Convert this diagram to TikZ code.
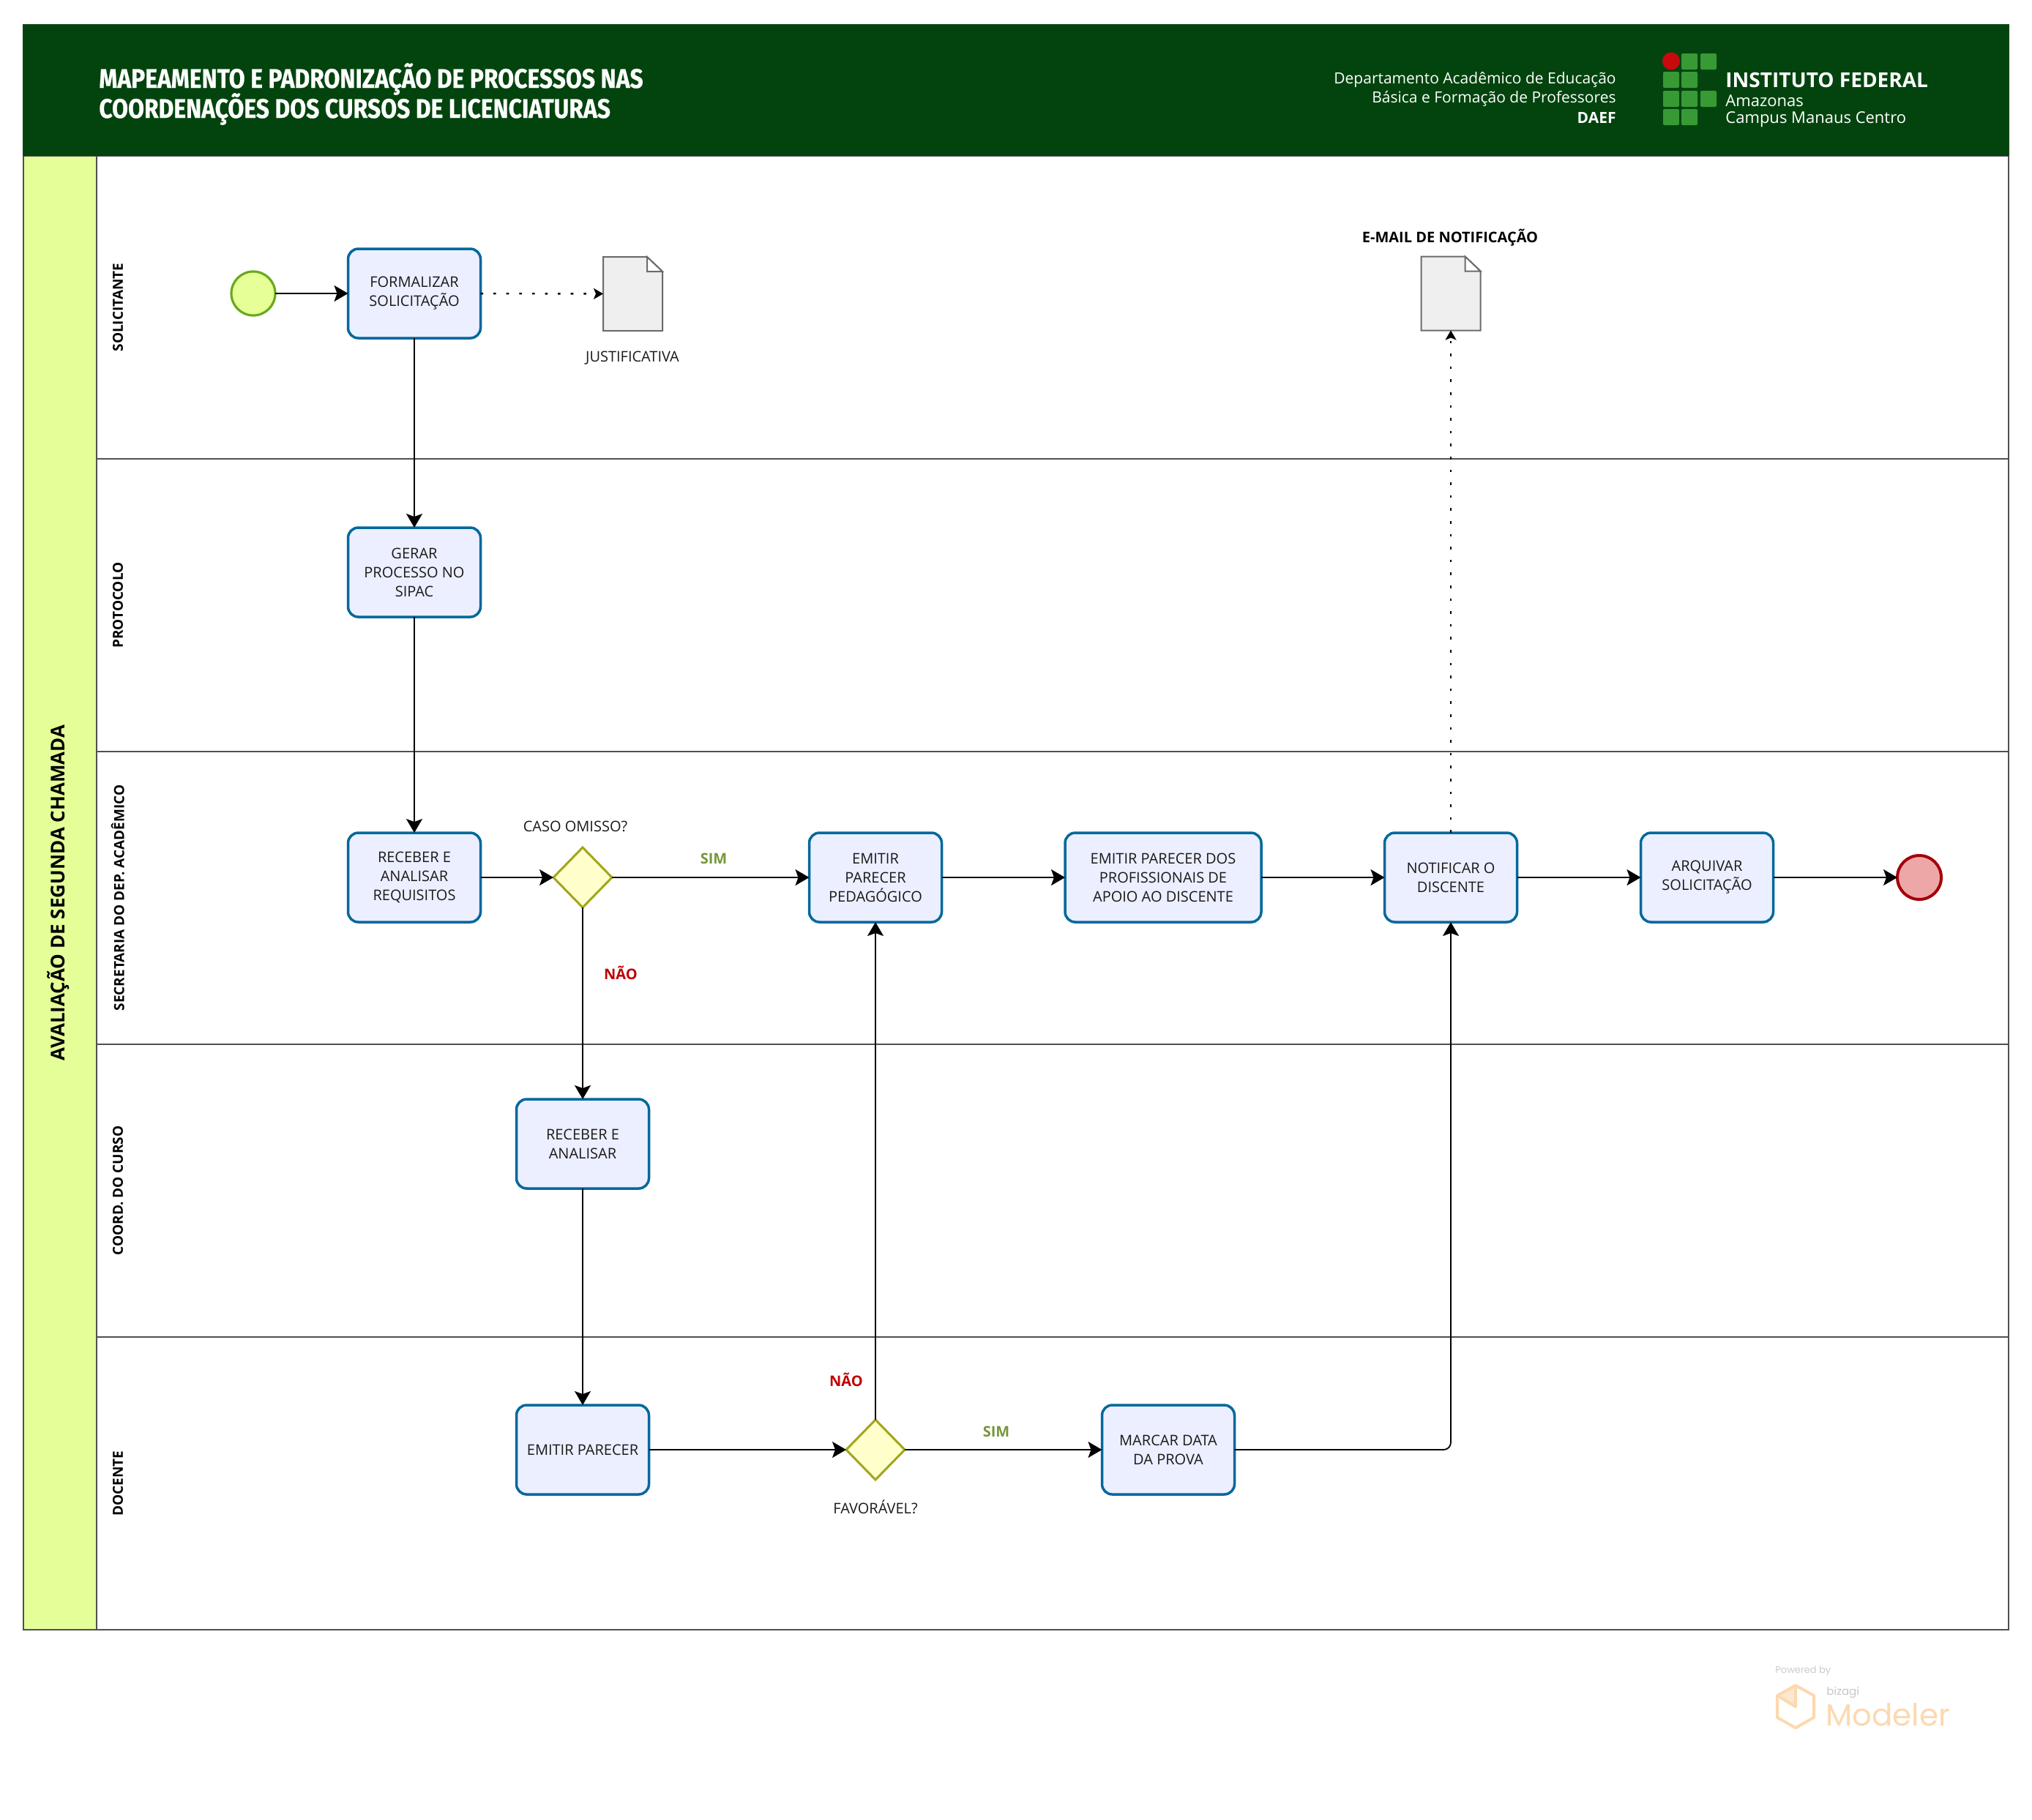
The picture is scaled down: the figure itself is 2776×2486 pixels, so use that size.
\documentclass[tikz,border=0pt]{standalone}
\usepackage{fontspec}
\setmainfont{Open Sans}
\newfontfamily\titlefont[FakeStretch=0.86,FakeBold=0.5]{Fira Sans Bold}
\newfontfamily\logofont{Poppins}
\usetikzlibrary{shapes.geometric,arrows.meta,calc}
\definecolor{hdr}{HTML}{03440E}
\definecolor{band}{HTML}{E4FF98}
\definecolor{taskfill}{HTML}{ECEFFF}
\definecolor{taskline}{HTML}{03689C}
\definecolor{startfill}{HTML}{E6FF97}
\definecolor{startline}{HTML}{6AA91E}
\definecolor{endfill}{HTML}{EEA7A7}
\definecolor{endline}{HTML}{A5000B}
\definecolor{gatefill}{HTML}{FFFFCC}
\definecolor{gateline}{HTML}{A2A61A}
\definecolor{docfill}{HTML}{EFEFEF}
\definecolor{docline}{HTML}{6B6B6B}
\definecolor{simc}{HTML}{759739}
\definecolor{naoc}{HTML}{C00000}
\definecolor{lanec}{HTML}{505050}
\definecolor{logog}{HTML}{379A35}
\definecolor{logor}{HTML}{C8090E}
\definecolor{peach}{HTML}{FBD9B0}
\definecolor{txt}{HTML}{1A1A1A}
\tikzset{
 tasknode/.style={draw=taskline,fill=taskfill,line width=1.75pt,rounded corners=7pt,minimum width=90.5pt,minimum height=61pt,inner sep=0pt,outer sep=0pt,align=center,text=txt,font=\fontsize{10}{13}\selectfont},
 widetask/.style={tasknode,minimum width=134pt},
 gatenode/.style={diamond,draw=gateline,fill=gatefill,line width=1.5pt,minimum width=40pt,minimum height=41pt,inner sep=0pt,outer sep=0pt},
 startnode/.style={circle,draw=startline,fill=startfill,line width=1.6pt,minimum size=30pt,inner sep=0pt,outer sep=0pt},
 endnode/.style={circle,draw=endline,fill=endfill,line width=2pt,minimum size=30pt,inner sep=0pt,outer sep=0pt},
 docnode/.style={minimum width=40.5pt,minimum height=50.5pt,inner sep=0pt,outer sep=0pt},
 docshape/.style={draw=docline,fill=docfill,line width=1pt},
 lane/.style={draw=lanec,fill=white,line width=0.9pt},
 flow/.style={draw=black,line width=0.9pt,-{Stealth[length=9.5pt,width=11pt,inset=2pt]}},
 dotflow/.style={draw=black,line width=1.2pt,dash pattern=on 1.8pt off 7pt,-{Stealth[length=6.5pt,width=7.5pt,inset=1.5pt]}},
 lbl/.style={inner sep=0pt,outer sep=0pt,text=txt,font=\fontsize{10}{13}\selectfont,align=center},
 lanelbl/.style={inner sep=0pt,outer sep=0pt,rotate=90,text=black,font=\fontsize{9.5}{12}\selectfont\bfseries},
 simlbl/.style={inner sep=0pt,text=simc,font=\fontsize{10}{13}\selectfont\bfseries},
 naolbl/.style={inner sep=0pt,text=naoc,font=\fontsize{10}{13}\selectfont\bfseries},
 hdrr/.style={inner sep=0pt,anchor=east,text=white,font=\fontsize{10.5}{13}\selectfont},
 hdrl/.style={inner sep=0pt,anchor=west,text=white,font=\fontsize{11}{13}\selectfont},
 titlelbl/.style={inner sep=0pt,anchor=west,text=white,font=\titlefont\fontsize{18.5}{20}\selectfont},
 logosq/.style={fill=logog,rounded corners=1pt},
}
\begin{document}
\begin{tikzpicture}[x=0.5pt,y=-0.5pt]
\useasboundingbox (0,0) rectangle (2776,2486);
\fill[white] (0,0) rectangle (2776,2486);
% pool and lanes
\draw[lane] (132,213) rectangle (2744,627);
\draw[lane] (132,627) rectangle (2744,1027);
\draw[lane] (132,1027) rectangle (2744,1427);
\draw[lane] (132,1427) rectangle (2744,1827);
\draw[lane] (132,1827) rectangle (2744,2227);
\draw[lane,fill=band] (32,213) rectangle (132,2227);
\fill[hdr] (31,33) rectangle (2744.5,213);
% titles
\node[titlelbl] (title1) at (135,108) {MAPEAMENTO E PADRONIZAÇÃO DE PROCESSOS NAS};
\node[titlelbl] (title2) at (135,149) {COORDENAÇÕES DOS CURSOS DE LICENCIATURAS};
\node[hdrr] (dep1) at (2208,109) {Departamento Acadêmico de Educação};
\node[hdrr] (dep2) at (2208,135) {Básica e Formação de Professores};
\node[hdrr,font=\fontsize{10.5}{13}\selectfont\bfseries] (dep3) at (2208,161) {DAEF};
% logo
\foreach \cx/\cy in {2297/73,2323/73,2272/98,2297/98,2272/124,2297/124,2323/124,2272/149,2297/149}{
  \fill[logosq] (\cx,\cy) rectangle ++(22,22);
}
\fill[logor] (2283,83.5) circle (6pt);
\node[hdrl,font=\fontsize{14}{16}\selectfont\bfseries] (if1) at (2357,109) {INSTITUTO FEDERAL};
\node[hdrl] (if2) at (2357,138) {Amazonas};
\node[hdrl] (if3) at (2357,163) {Campus Manaus Centro};
% lane labels
\node[rotate=90,inner sep=0pt,text=black,font=\fontsize{13}{15}\selectfont\bfseries] (poollbl) at (80,1220) {AVALIAÇÃO DE SEGUNDA CHAMADA};
\node[lanelbl] (l1) at (161,420) {SOLICITANTE};
\node[lanelbl] (l2) at (161,827) {PROTOCOLO};
\node[lanelbl] (l3) at (161,1227) {SECRETARIA DO DEP. ACADÊMICO};
\node[lanelbl] (l4) at (161,1627) {COORD. DO CURSO};
\node[lanelbl] (l5) at (161,2027) {DOCENTE};
% nodes
\node[startnode] (start) at (346,401) {};
\node[tasknode] (formal) at (566,401) {FORMALIZAR\\SOLICITAÇÃO};
\node[docnode] (docj) at (864.5,401.5) {};
\node[tasknode] (gerar) at (566,782) {GERAR\\PROCESSO NO\\SIPAC};
\node[tasknode] (receber) at (566,1199) {RECEBER E\\ANALISAR\\REQUISITOS};
\node[gatenode] (omisso) at (796,1199) {};
\node[tasknode] (pedag) at (1196,1199) {EMITIR\\PARECER\\PEDAGÓGICO};
\node[widetask] (apoio) at (1589,1199) {EMITIR PARECER DOS\\PROFISSIONAIS DE\\APOIO AO DISCENTE};
\node[tasknode] (notif) at (1982,1199) {NOTIFICAR O\\DISCENTE};
\node[tasknode] (arq) at (2332,1199) {ARQUIVAR\\SOLICITAÇÃO};
\node[endnode] (fim) at (2622,1199) {};
\node[tasknode] (recan) at (796,1563) {RECEBER E\\ANALISAR};
\node[tasknode] (empar) at (796,1981) {EMITIR PARECER};
\node[gatenode] (favor) at (1196,1981) {};
\node[tasknode] (marcar) at (1596,1981) {MARCAR DATA\\DA PROVA};
\node[docnode] (doce) at (1982,401) {};
% documents
\foreach \d in {docj,doce}{
  \draw[docshape,line join=miter] (\d.north west) -- ($(\d.north east)+(-10.5pt,0)$) -- ($(\d.north east)+(0,-10pt)$) -- (\d.south east) -- (\d.south west) -- cycle;
  \draw[docshape,fill=white] ($(\d.north east)+(-10.5pt,0)$) -- ($(\d.north east)+(-10.5pt,-10pt)$) -- ($(\d.north east)+(0,-10pt)$) -- cycle;
}
% labels
\node[lbl] (ljust) at (864,489) {JUSTIFICATIVA};
\node[lbl,font=\fontsize{10}{13}\selectfont\bfseries,text=black] (lmail) at (1981,325) {E-MAIL DE NOTIFICAÇÃO};
\node[lbl] (lcaso) at (786,1129) {CASO OMISSO?};
\node[lbl] (lfav) at (1196,2059) {FAVORÁVEL?};
\node[simlbl] (s1) at (975,1173) {SIM};
\node[naolbl] (n1) at (848,1329) {NÃO};
\node[naolbl] (n2) at (1156,1885) {NÃO};
\node[simlbl] (s2) at (1361,1956) {SIM};
% connectors
\draw[flow] (start) -- (formal);
\draw[dotflow] (formal) -- (docj);
\draw[flow] (formal) -- (gerar);
\draw[flow] (gerar) -- (receber);
\draw[flow] (receber) -- (omisso);
\draw[flow] (omisso) -- (pedag);
\draw[flow] (pedag) -- (apoio);
\draw[flow] (apoio) -- (notif);
\draw[flow] (notif) -- (arq);
\draw[flow] (arq) -- (fim);
\draw[flow] (omisso) -- (recan);
\draw[flow] (recan) -- (empar);
\draw[flow] (empar) -- (favor);
\draw[flow] (favor) -- (pedag);
\draw[flow] (favor) -- (marcar);
\draw[flow,rounded corners=5pt] (marcar.east) -| (notif.south);
\draw[dotflow] (notif) -- (doce);
% watermark
\node[inner sep=0pt,anchor=west,text=black!20,font=\logofont\fontsize{6.5}{8}\selectfont] (pow) at (2425,2283) {Powered by};
\draw[peach,line width=2pt,line join=round] (2453,2303) -- (2478,2317) -- (2478,2347) -- (2453,2361) -- (2428,2347) -- (2428,2317) -- cycle;
\fill[peach,opacity=.6] (2453,2303) -- (2453,2332) -- (2428,2317) -- cycle;
\draw[peach,line width=2pt,line join=round] (2428,2317) -- (2453,2332) -- (2453,2303);
\node[inner sep=0pt,anchor=west,text=black!22,font=\logofont\fontsize{7.5}{9}\selectfont] (biz) at (2495,2313) {bizagi};
\node[inner sep=0pt,anchor=base west,text=peach,font=\logofont\fontsize{21}{24}\selectfont] (mod) at (2494,2358) {Modeler};
\end{tikzpicture}
\end{document}
